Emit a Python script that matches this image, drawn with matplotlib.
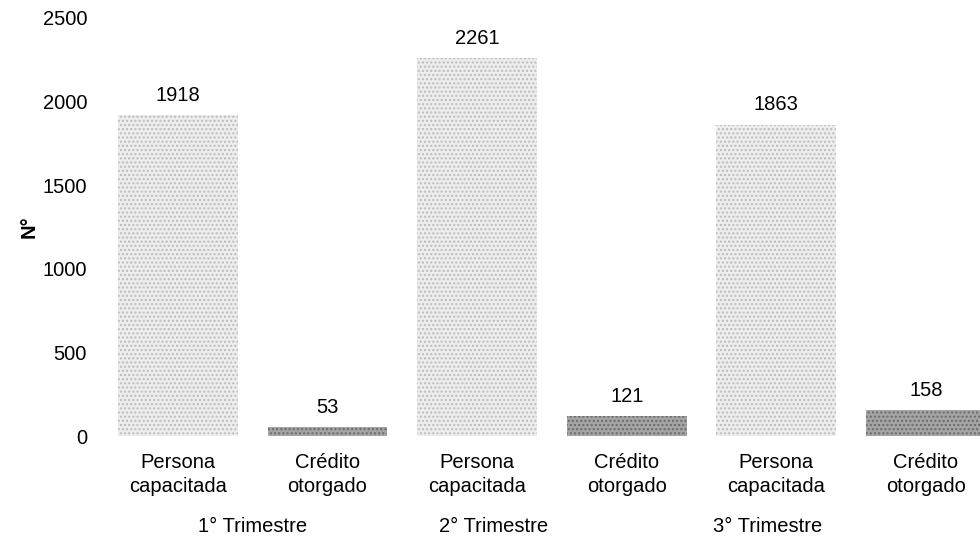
import matplotlib.pyplot as plt
import matplotlib.transforms as mtransforms

plt.rcParams['font.family'] = ['Liberation Sans', 'DejaVu Sans']

# data
categories = ["Persona\ncapacitada", "Crédito\notorgado"] * 3
values = [1918, 53, 2261, 121, 1863, 158]
groups = ["1° Trimestre", "2° Trimestre", "3° Trimestre"]
group_x = [0.50, 2.11, 3.94]   # where the quarter labels sit under the bars
y_ticks = [0, 500, 1000, 1500, 2000, 2500]

fs = 14.5

fig = plt.figure(figsize=(9.8, 5.41), dpi=100)
# plot area: y=0 at 436 px, y=2500 at 18 px; x=-0.5 at 103 px, right edge of the figure
ax = fig.add_axes([103 / 980, 1 - 436 / 541, 1 - 103 / 980, 418 / 541])

x = list(range(len(values)))
for i, v in enumerate(values):
    if i % 2 == 0:
        face, hatch_col = "#ededed", "#bcbcbc"
    else:
        face, hatch_col = "#a4a4a4", "#6a6a6a"
    ax.bar(i, v, width=0.80, color=face, edgecolor=hatch_col, hatch="....", linewidth=0)
    ax.text(i, v + 60, str(v), ha="center", va="bottom", fontsize=fs)

ax.set_xlim(-0.5, (980 - 178) / 149.6)
ax.set_ylim(0, 2500)
ax.set_yticks(y_ticks)
ax.set_yticklabels([str(t) for t in y_ticks], fontsize=fs)
ax.set_xticks(x)
ax.set_xticklabels(categories, fontsize=fs, linespacing=1.3)
ax.tick_params(length=0)
ax.tick_params(axis="y", pad=11.5)
ax.tick_params(axis="x", pad=12.5)
for s in ax.spines.values():
    s.set_visible(False)

ax.set_ylabel("N°", fontsize=fs, fontweight="bold")
ax.yaxis.set_label_coords(-0.073, 0.5)

trans = mtransforms.blended_transform_factory(ax.transData, fig.transFigure)
for gx, g in zip(group_x, groups):
    ax.text(gx, 1 - 527 / 541, g, transform=trans, ha="center", va="center", fontsize=fs)

fig.savefig("out.png", dpi=100)
